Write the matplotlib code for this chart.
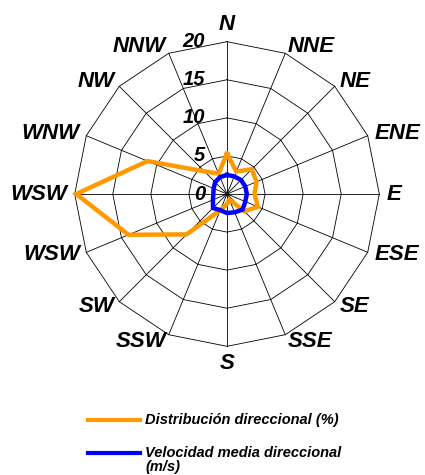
import numpy as np
import matplotlib.pyplot as plt
from matplotlib.lines import Line2D

# Direcciones (tal como aparecen en el grafico original)
direcciones = ['N', 'NNE', 'NE', 'ENE', 'E', 'ESE', 'SE', 'SSE',
               'S', 'SSW', 'SW', 'WSW', 'WSW', 'WNW', 'NW', 'NNW']

# Distribucion direccional (%)
distribucion = [5.3, 3.2, 4.6, 4.2, 3.6, 4.4, 3.2, 0.8,
                1.3, 2.3, 7.5, 14.0, 19.8, 11.3, 4.2, 2.9]

# Velocidad media direccional (m/s)
velocidad = [2.5, 2.5, 2.6, 2.6, 2.6, 2.6, 2.9, 2.6,
             2.5, 2.3, 2.6, 2.0, 1.8, 1.9, 2.2, 2.4]

anillos = [5, 10, 15, 20]
etiquetas_r = ['0', '5', '10', '15', '20']

fuente = dict(family='Liberation Sans', weight='bold', style='italic')
naranja = '#FF9900'
azul = '#0000FF'

n = len(direcciones)
ang = np.linspace(0, 2 * np.pi, n, endpoint=False)
ang_c = np.append(ang, ang[0])

fig = plt.figure(figsize=(4.25, 4.75), dpi=100)
ax = fig.add_axes([74.7 / 425, 128.7 / 475, 304.6 / 425, 304.6 / 475], polar=True)
ax.set_theta_zero_location('N')
ax.set_theta_direction(-1)
ax.set_ylim(0, 20)
ax.grid(False)
ax.spines['polar'].set_visible(False)
ax.set_xticks([])
ax.set_yticks([])
ax.patch.set_alpha(0)

# rejilla poligonal
for r in anillos:
    ax.plot(ang_c, [r] * (n + 1), color='black', lw=0.6, clip_on=False, zorder=1)
for a in ang:
    ax.plot([a, a], [0, 20], color='black', lw=0.6, clip_on=False, zorder=1)

# series
ax.plot(ang_c, distribucion + distribucion[:1], color=naranja, lw=3.2,
        clip_on=False, zorder=3, solid_joinstyle='miter')
ax.plot(ang_c, velocidad + velocidad[:1], color=azul, lw=3.2,
        clip_on=False, zorder=4, solid_joinstyle='miter')

# etiquetas de direccion
for a, lab in zip(ang, direcciones):
    s, c = np.sin(a), np.cos(a)
    ha = 'left' if s > 0.2 else ('right' if s < -0.2 else 'center')
    va = 'bottom' if c > 0.95 else ('top' if c < -0.95 else 'center')
    ax.annotate(lab, (a, 20), xytext=(7 * s, 7 * c), textcoords='offset pixels',
                ha=ha, va=va, fontsize=16, annotation_clip=False, **fuente)

# etiquetas del eje radial
for r, lab in zip([0] + anillos, etiquetas_r):
    ax.annotate(lab, (0, r), xytext=(-22, 0), textcoords='offset pixels',
                ha='right', va='center', fontsize=14.5, annotation_clip=False, **fuente)

# leyenda
fig.add_artist(Line2D([88 / 425, 140 / 425], [55 / 475, 55 / 475], color=naranja, lw=3))
fig.text(145 / 425, 55 / 475, 'Distribución direccional (%)', ha='left', va='center',
         fontsize=10.5, **fuente)
fig.add_artist(Line2D([88 / 425, 140 / 425], [22.3 / 475, 22.3 / 475], color=azul, lw=3))
fig.text(145 / 425, 29 / 475, 'Velocidad media direccional\n(m/s)', ha='left', va='top',
         fontsize=10.5, linespacing=1.0, **fuente)

fig.savefig('out.png', dpi=100)
